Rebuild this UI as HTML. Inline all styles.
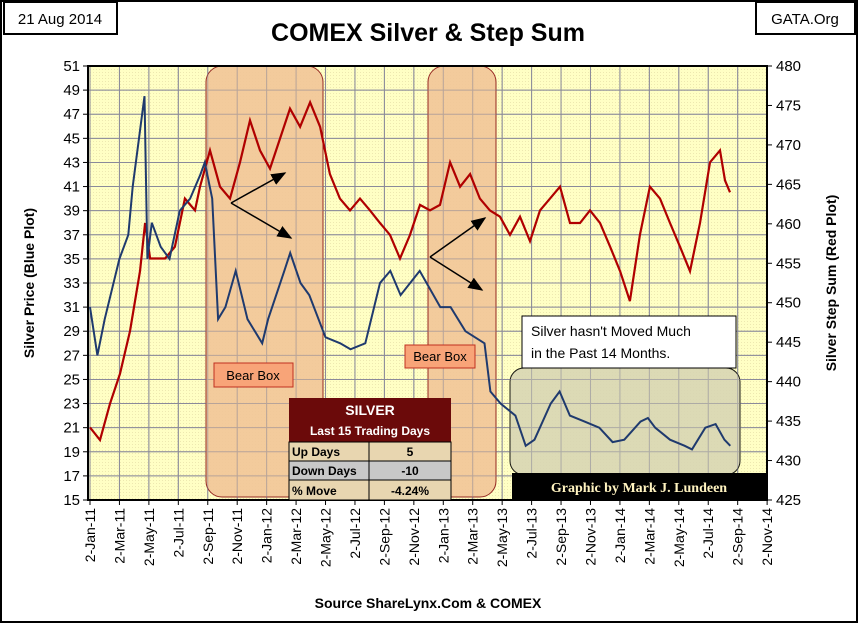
<!DOCTYPE html>
<html><head><meta charset="utf-8"><style>
body{margin:0;background:#fff;font-family:"Liberation Sans",sans-serif}
#wrap{position:relative;width:858px;height:623px;overflow:hidden}
</style></head><body>
<div id="wrap">
<svg id="chart" width="858" height="623" viewBox="0 0 858 623" xmlns="http://www.w3.org/2000/svg">
<defs>
<pattern id="dots" width="3" height="3" patternUnits="userSpaceOnUse"><rect width="3" height="3" fill="#FFFFC4"/><rect width="1" height="1" fill="#EDE8B0"/></pattern>
<marker id="ah" markerWidth="10" markerHeight="8" refX="9" refY="4" orient="auto"><path d="M0,0 L10,4 L0,8 Z" fill="#000"/></marker>
</defs>
<rect x="1" y="1" width="856" height="621" fill="#fff" stroke="#000" stroke-width="2"/>
<rect x="4" y="2" width="113" height="32" fill="#fff" stroke="#000" stroke-width="2"/>
<text x="60" y="24" font-size="15" text-anchor="middle">21 Aug 2014</text>
<rect x="756" y="2" width="99" height="32" fill="#fff" stroke="#000" stroke-width="2"/>
<text x="805" y="24" font-size="15" text-anchor="middle">GATA.Org</text>
<text x="428" y="41" font-size="25" font-weight="bold" text-anchor="middle">COMEX Silver &amp; Step Sum</text>
<rect x="88" y="66" width="679" height="434" fill="url(#dots)"/>
<g id="grid"></g>
<rect x="206" y="66" width="117" height="431" rx="16" fill="#F2C698" stroke="#8B1010" stroke-width="1" opacity="0.9"/>
<rect x="428" y="66" width="68" height="431" rx="16" fill="#F2C698" stroke="#8B1010" stroke-width="1" opacity="0.9"/>
<rect x="510" y="368" width="230" height="107" rx="14" fill="#D9D6B4" stroke="#000" stroke-width="1" opacity="0.9"/>
<g id="grid2" opacity="0.5"></g>
<path id="red" fill="none" stroke="#B00000" stroke-width="2.2"/>
<path id="blue" fill="none" stroke="#1F3A6E" stroke-width="2"/>
<rect x="88" y="66" width="679" height="434" fill="none" stroke="#000" stroke-width="2"/>
<g id="axes"></g>
<line x1="231" y1="203" x2="285" y2="173" stroke="#000" stroke-width="1.5" marker-end="url(#ah)"/>
<line x1="231" y1="203" x2="291" y2="238" stroke="#000" stroke-width="1.5" marker-end="url(#ah)"/>
<line x1="430" y1="257" x2="485" y2="218" stroke="#000" stroke-width="1.5" marker-end="url(#ah)"/>
<line x1="430" y1="257" x2="482" y2="290" stroke="#000" stroke-width="1.5" marker-end="url(#ah)"/>
<rect x="214" y="363" width="79" height="24" fill="#F8A478" stroke="#C03020"/>
<text x="253" y="380" font-size="13" text-anchor="middle">Bear Box</text>
<rect x="405" y="345" width="70" height="23" fill="#F8A478" stroke="#C03020"/>
<text x="440" y="361" font-size="13" text-anchor="middle">Bear Box</text>
<rect x="522" y="316" width="214" height="52" fill="#fff" stroke="#000"/>
<text x="531" y="336" font-size="14">Silver hasn't Moved Much</text>
<text x="531" y="358" font-size="14">in the Past 14 Months.</text>
<rect x="512" y="473" width="255" height="27" fill="#000"/>
<text x="639" y="492" font-size="14" font-weight="bold" fill="#FFF3C0" text-anchor="middle" font-family="Liberation Serif,serif">Graphic by Mark J. Lundeen</text>
<g>
<rect x="289" y="398" width="162" height="44" fill="#6B0A0A"/>
<text x="370" y="415" font-size="14" font-weight="bold" fill="#fff" text-anchor="middle">SILVER</text>
<text x="370" y="435" font-size="12" font-weight="bold" fill="#fff" text-anchor="middle">Last 15 Trading Days</text>
<rect x="289" y="442" width="162" height="19" fill="#E8D6B0" stroke="#000"/>
<rect x="289" y="461" width="162" height="19" fill="#C8C8C8" stroke="#000"/>
<rect x="289" y="480" width="162" height="20" fill="#E8D6B0" stroke="#000"/>
<line x1="369" y1="442" x2="369" y2="500" stroke="#000"/>
<text x="292" y="456" font-size="12" font-weight="bold">Up Days</text><text x="410" y="456" font-size="12" font-weight="bold" text-anchor="middle">5</text>
<text x="292" y="475" font-size="12" font-weight="bold">Down Days</text><text x="410" y="475" font-size="12" font-weight="bold" text-anchor="middle">-10</text>
<text x="292" y="495" font-size="12" font-weight="bold">% Move</text><text x="410" y="495" font-size="12" font-weight="bold" text-anchor="middle">-4.24%</text>
</g>
<text transform="translate(34,283) rotate(-90)" font-size="14" font-weight="bold" text-anchor="middle">Silver Price  (Blue Plot)</text>
<text transform="translate(836,283) rotate(-90)" font-size="14" font-weight="bold" text-anchor="middle">Silver Step Sum  (Red Plot)</text>
<text x="428" y="608" font-size="14" font-weight="bold" text-anchor="middle">Source ShareLynx.Com &amp; COMEX</text>
</svg>
</div>
<script>
const xLabels=["2-Jan-11","2-Mar-11","2-May-11","2-Jul-11","2-Sep-11","2-Nov-11","2-Jan-12","2-Mar-12","2-May-12","2-Jul-12","2-Sep-12","2-Nov-12","2-Jan-13","2-Mar-13","2-May-13","2-Jul-13","2-Sep-13","2-Nov-13","2-Jan-14","2-Mar-14","2-May-14","2-Jul-14","2-Sep-14","2-Nov-14"];
const leftTicks=[15,17,19,21,23,25,27,29,31,33,35,37,39,41,43,45,47,49,51];
const rightTicks=[425,430,435,440,445,450,455,460,465,470,475,480];
const blueMonths=[0,0.5,1.0,2.0,2.6,2.9,3.7,3.9,4.2,4.8,5.4,6.1,6.8,7.5,7.8,8.3,8.7,9.2,9.9,10.7,11.7,12.1,13.2,13.6,14.3,14.9,16.0,17.0,17.7,18.7,19.7,20.4,21.1,22.4,23.8,24.5,25.5,26.8,27.2,27.9,28.9,29.6,30.2,31.3,31.9,32.6,33.6,34.6,35.5,36.3,37.4,37.9,38.4,39.4,40.4,40.9,41.8,42.5,43.1,43.5];
const bluePrice=[31,27,30,35,37,41,48.5,35,38,36,35,39,40,42,43,40,30,31,34,30,28,30,34,35.5,33,32,28.5,28,27.5,28,33,34,32,34,31,31,29,28,24,23,22,19.5,20,23,24,22,21.5,21,19.8,20,21.5,21.8,21,20,19.5,19.2,21,21.3,20,19.5];
const redMonths=[0,0.68,1.36,2.04,2.72,3.40,3.74,4.08,5.10,5.77,6.45,7.13,7.47,8.15,8.83,9.51,10.19,10.87,11.55,12.23,12.91,13.59,14.27,14.95,15.63,16.30,16.98,17.66,18.34,19.02,19.70,20.38,21.06,21.74,22.42,23.10,23.78,24.46,25.14,25.82,26.49,27.17,27.85,28.53,29.21,29.89,30.57,31.25,31.93,32.61,33.29,33.97,34.65,35.33,36.01,36.68,37.36,38.04,38.72,39.40,40.08,40.76,41.44,42.12,42.80,43.14,43.48];
const stepSum=[434.2,432.6,437.2,441.0,446.4,454.0,460.1,455.6,455.6,457.1,463.2,461.7,464.7,469.3,464.7,463.2,467.8,473.1,469.3,467.0,470.8,474.6,472.3,475.4,472.3,466.3,463.2,461.7,463.2,461.7,460.1,458.6,455.6,458.6,462.4,461.7,462.4,467.8,464.7,466.3,463.2,461.7,460.9,458.6,460.9,457.8,461.7,463.2,464.7,460.1,460.1,461.7,460.1,457.1,454.0,450.2,458.6,464.7,463.2,460.1,457.1,454.0,460.1,467.8,469.3,465.5,464.0];

const X0=90,PXM=14.72,T=66,B=500,L=88,R=767;
const xs=m=>X0+m*PXM;
const yl=v=>B-(v-15)*(B-T)/36;
const yr=v=>B-(v-425)*(B-T)/55;
const NS="http://www.w3.org/2000/svg";
function mk(tag,attrs,parent){const e=document.createElementNS(NS,tag);for(const k in attrs)e.setAttribute(k,attrs[k]);parent.appendChild(e);return e;}
const grid=document.getElementById('grid'),grid2=document.getElementById('grid2'),axes=document.getElementById('axes');
[grid,grid2].forEach(g=>{
 xLabels.forEach((t,i)=>{const x=xs(i*2);if(x>L&&x<R){const ln=mk('line',{x1:x,y1:T,x2:x,y2:B,stroke:'#8A8A9A','stroke-width':1},g);
 
 }});
 leftTicks.forEach(v=>{const y=yl(v);const ln=mk('line',{x1:L,y1:y,x2:R,y2:y,stroke:'#8A8A9A','stroke-width':1},g);
 
 });
});
leftTicks.forEach(v=>{const y=yl(v);mk('line',{x1:L-5,y1:y,x2:L,y2:y,stroke:'#000'},axes);const t=mk('text',{x:L-8,y:y+5,'font-size':15,'text-anchor':'end'},axes);t.textContent=v;
 
 });
rightTicks.forEach(v=>{const y=yr(v);mk('line',{x1:R,y1:y,x2:R+5,y2:y,stroke:'#000'},axes);const t=mk('text',{x:R+9,y:y+5,'font-size':15},axes);t.textContent=v;
 
 });
xLabels.forEach((s,i)=>{const x=xs(i*2);mk('line',{x1:x,y1:B,x2:x,y2:B+5,stroke:'#000'},axes);const t=mk('text',{transform:`translate(${x+5},${B+8}) rotate(-90)`,'font-size':14,'text-anchor':'end'},axes);t.textContent=s;
 
 });
document.getElementById('blue').setAttribute('d',blueMonths.map((m,i)=>(i?'L':'M')+xs(m).toFixed(1)+','+yl(bluePrice[i]).toFixed(1)).join(''));
document.getElementById('red').setAttribute('d',redMonths.map((m,i)=>(i?'L':'M')+xs(m).toFixed(1)+','+yr(stepSum[i]).toFixed(1)).join(''));
</script>
</body></html>
